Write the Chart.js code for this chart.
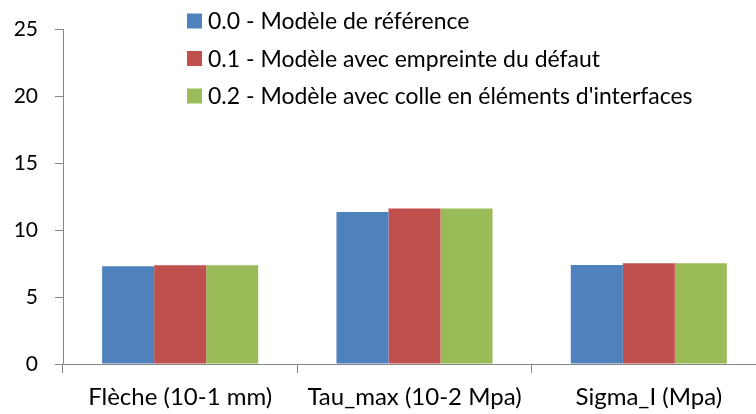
<!DOCTYPE html>
<html>
<head>
<meta charset="utf-8">
<script src="https://cdn.jsdelivr.net/npm/chart.js@4"></script>
<style>
  html, body { margin: 0; padding: 0; background: #fff; overflow: hidden; }
  #wrap { width: 770px; height: 414px; }
</style>
</head>
<body>
<div id="wrap"><canvas id="barChart"></canvas></div>
<script>
// data
const categories = ['Flèche (10-1 mm)', 'Tau_max (10-2 Mpa)', 'Sigma_I (Mpa)'];
const seriesNames = [
    '0.0 - Modèle de référence',
    '0.1 - Modèle avec empreinte du défaut',
    '0.2 - Modèle avec colle en éléments d\'interfaces'
];
const modeleReference = [7.31, 11.36, 7.40];
const modeleEmpreinte = [7.38, 11.63, 7.53];
const modeleColle = [7.38, 11.63, 7.53];
const yTicks = [0, 5, 10, 15, 20, 25];

const colors = ['#4F81BD', '#C0504D', '#9BBB59'];
const FONT = 'Lato, "Open Sans", sans-serif';

// legend drawn inside the plot area, like the Excel original
const insideLegend = {
    id: 'insideLegend',
    afterDraw(chart, args, opts) {
        const ctx = chart.ctx;
        ctx.save();
        ctx.font = opts.size + 'px ' + FONT;
        ctx.textBaseline = 'middle';
        chart.data.datasets.forEach((ds, i) => {
            const y = opts.top + i * opts.rowGap;
            ctx.fillStyle = ds.backgroundColor;
            ctx.fillRect(opts.left, y - opts.box / 2, opts.box, opts.box);
            ctx.fillStyle = '#000';
            ctx.fillText(ds.label, opts.left + opts.box + 6, y + 1);
        });
        ctx.restore();
    }
};

function initBarChart() {
    const ctx = document.getElementById('barChart').getContext('2d');
    const datasets = [modeleReference, modeleEmpreinte, modeleColle].map((vals, i) => ({
        label: seriesNames[i],
        data: vals,
        backgroundColor: colors[i],
        borderWidth: 0,
        categoryPercentage: 0.666,
        barPercentage: 1.0
    }));

    return new Chart(ctx, {
        type: 'bar',
        data: { labels: categories, datasets: datasets },
        plugins: [insideLegend],
        options: {
            responsive: true,
            maintainAspectRatio: false,
            animation: false,
            layout: { padding: { top: 23, right: 4, left: 0, bottom: 0 } },
            scales: {
                x: {
                    grid: { drawOnChartArea: false, color: '#868686', tickLength: 9, offset: true },
                    border: { color: '#868686', width: 1 },
                    ticks: { color: '#000', font: { family: FONT, size: 24 }, padding: 10, maxRotation: 0 },
                    afterFit: s => { s.height = 50; }
                },
                y: {
                    min: 0,
                    max: 25,
                    afterBuildTicks: s => { s.ticks = yTicks.map(v => ({ value: v })); },
                    grid: { drawOnChartArea: false, color: '#868686', tickLength: 8 },
                    border: { color: '#868686', width: 1 },
                    ticks: { color: '#000', font: { family: FONT, size: 21 }, padding: 17 },
                    afterFit: s => { s.width = 63; }
                }
            },
            plugins: {
                legend: { display: false },
                tooltip: { enabled: false },
                insideLegend: { left: 187, top: 21, rowGap: 37.5, box: 15, size: 23 }
            }
        }
    });
}

initBarChart();
</script>
</body>
</html>
